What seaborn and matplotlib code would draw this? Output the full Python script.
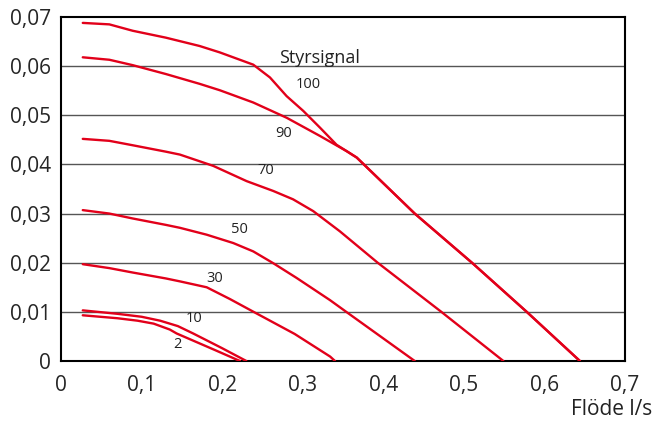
import pandas as pd
import seaborn as sns
import matplotlib.pyplot as plt

# Pump curves (flow l/s vs pressure), one per control signal
x_100 = [0.027, 0.06, 0.089, 0.13, 0.172, 0.197, 0.2386, 0.2593, 0.28, 0.3006, 0.3213, 0.342, 0.367, 0.439, 0.51, 0.578, 0.644]
y_100 = [0.0688, 0.0685, 0.0672, 0.0658, 0.0641, 0.0628, 0.0603, 0.0577, 0.0539, 0.0509, 0.0475, 0.0440, 0.0414, 0.030, 0.020, 0.010, 0.0]
x_90 = [0.027, 0.06, 0.089, 0.13, 0.172, 0.197, 0.2386, 0.28, 0.3213, 0.3545, 0.367, 0.439, 0.51, 0.578, 0.644]
y_90 = [0.0618, 0.0613, 0.0602, 0.0584, 0.0564, 0.0551, 0.0526, 0.0495, 0.0458, 0.0427, 0.0414, 0.030, 0.020, 0.010, 0.0]
x_70 = [0.027, 0.06, 0.089, 0.13, 0.1476, 0.189, 0.2304, 0.2634, 0.288, 0.313, 0.346, 0.393, 0.472, 0.549]
y_70 = [0.0452, 0.0448, 0.0439, 0.0426, 0.0420, 0.0397, 0.0366, 0.0346, 0.0329, 0.0305, 0.0264, 0.020, 0.010, 0.0]
x_50 = [0.027, 0.06, 0.089, 0.13, 0.1476, 0.1808, 0.2138, 0.2386, 0.2634, 0.2924, 0.3337, 0.354, 0.439]
y_50 = [0.0307, 0.0300, 0.0290, 0.0277, 0.0271, 0.0257, 0.0240, 0.0223, 0.0199, 0.0169, 0.0124, 0.010, 0.0]
x_30 = [0.027, 0.06, 0.089, 0.13, 0.1476, 0.1808, 0.2097, 0.239, 0.29, 0.334, 0.34]
y_30 = [0.0197, 0.0189, 0.0180, 0.0168, 0.0162, 0.0150, 0.0126, 0.0100, 0.0055, 0.0009, 0.0]
x_10 = [0.027, 0.07, 0.1, 0.123, 0.145, 0.164, 0.2, 0.23]
y_10 = [0.0103, 0.0096, 0.0090, 0.0082, 0.0071, 0.0056, 0.0026, 0.0]
x_2 = [0.027, 0.07, 0.095, 0.115, 0.135, 0.1435, 0.19, 0.222]
y_2 = [0.0093, 0.0087, 0.0082, 0.0076, 0.0064, 0.0056, 0.0023, 0.0]

signals = ['100', '90', '70', '50', '30', '10', '2']
xs = [x_100, x_90, x_70, x_50, x_30, x_10, x_2]
ys = [y_100, y_90, y_70, y_50, y_30, y_10, y_2]

# label positions (data coords) for the signal numbers
label_x = [0.307, 0.2758, 0.254, 0.222, 0.191, 0.1648, 0.1439]
label_y = [0.0562, 0.0463, 0.0387, 0.0267, 0.0167, 0.0086, 0.0033]

x_ticks = [0, 0.1, 0.2, 0.3, 0.4, 0.5, 0.6, 0.7]
x_ticklabels = ['0', '0,1', '0,2', '0,3', '0,4', '0,5', '0,6', '0,7']
y_ticks = [0, 0.01, 0.02, 0.03, 0.04, 0.05, 0.06, 0.07]
y_ticklabels = ['0', '0,01', '0,02', '0,03', '0,04', '0,05', '0,06', '0,07']

rows = []
for s, xv, yv in zip(signals, xs, ys):
    for a, b in zip(xv, yv):
        rows.append({'signal': s, 'flow': a, 'pressure': b})
df = pd.DataFrame(rows)

sns.set_style('white')
plt.rcParams['font.family'] = ['Open Sans', 'DejaVu Sans']

fig = plt.figure(figsize=(6.54, 4.23), dpi=100)
ax = fig.add_axes([0.0933, 0.1466, 0.8624, 0.8132])

for yt in y_ticks[1:-1]:
    ax.axhline(yt, color='#555555', lw=1.0, zorder=1)

sns.lineplot(data=df, x='flow', y='pressure', hue='signal', units='signal', estimator=None,
             sort=False, palette=['#e2001a'] * len(signals), legend=False, lw=1.7, ax=ax, zorder=3)

for s, lx, ly in zip(signals, label_x, label_y):
    ax.text(lx, ly, s, fontsize=10.5, ha='center', va='center', color='#222222')
ax.text(0.321, 0.0606, 'Styrsignal', fontsize=13, ha='center', va='baseline', color='#222222')

ax.set_xlim(0, 0.7)
ax.set_ylim(0, 0.07)
ax.set_xticks(x_ticks)
ax.set_xticklabels(x_ticklabels, fontsize=15)
ax.set_yticks(y_ticks)
ax.set_yticklabels(y_ticklabels, fontsize=15)
ax.tick_params(axis='both', direction='out', length=4, width=1, color='black', pad=3)
ax.tick_params(axis='x', pad=6)
ax.set_xlabel('')
ax.set_ylabel('')
for sp in ax.spines.values():
    sp.set_color('black')
    sp.set_linewidth(1.5)

fig.text(0.997, 0.019, 'Flöde l/s', fontsize=15, ha='right', va='baseline', color='#222222')

fig.savefig('out.png', dpi=100)
